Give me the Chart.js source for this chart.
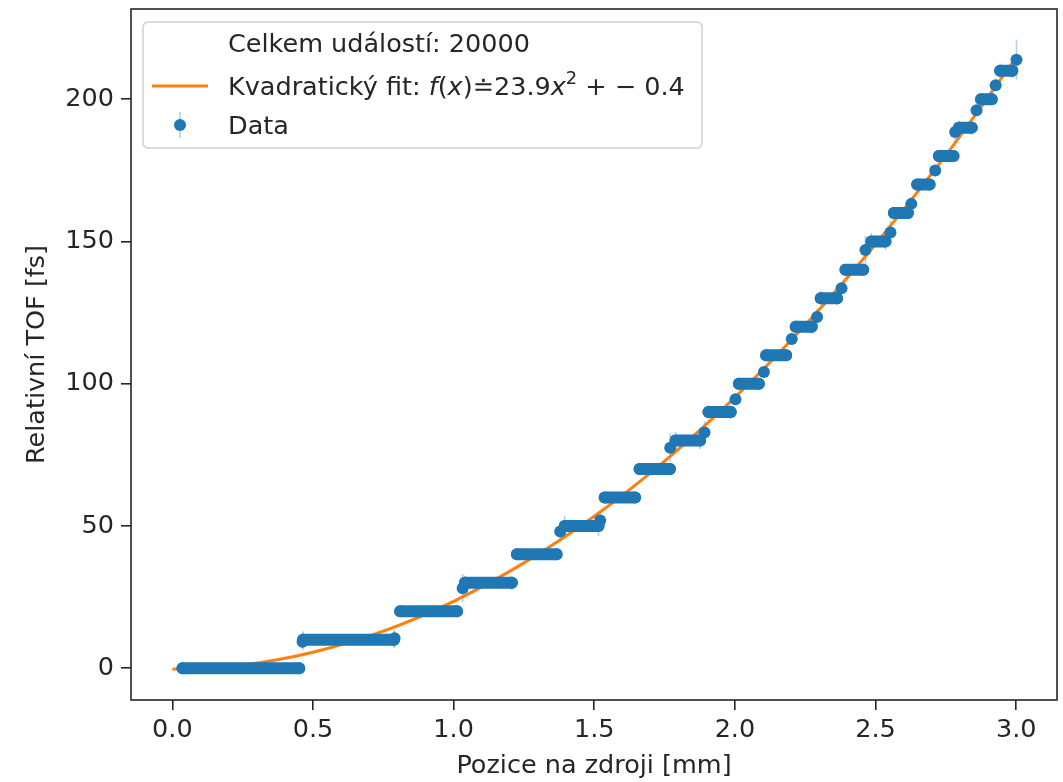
<!DOCTYPE html>
<html><head><meta charset="utf-8">
<script src="https://cdn.jsdelivr.net/npm/chart.js@4"></script>
<style>html,body{margin:0;padding:0;background:#fff}#wrap{width:1063px;height:782px;position:relative}</style>
</head><body><div id="wrap"><canvas id="c"></canvas></div>
<script>
// ---- data ----
const stepValues = [0,10,20,30,40,50,60,70,80,90,100,110,120,130,140,150,160,170,180,190,200,210];
const stepStart  = [0.036,0.465,0.81,1.04,1.225,1.395,1.537,1.661,1.789,1.906,2.014,2.111,2.216,2.305,2.393,2.485,2.565,2.648,2.725,2.796,2.875,2.943];
const stepEnd    = [0.451,0.788,1.012,1.207,1.366,1.515,1.645,1.769,1.876,1.985,2.085,2.182,2.273,2.363,2.456,2.535,2.615,2.692,2.777,2.842,2.913,2.986];
const stepErr    = [0.5,3,1.5,2.5,1.5,3.5,1.5,1.5,3,2.5,1.5,1.5,2.5,2.5,1.5,3,2,2,1.5,2.5,1.5,2.5];
const extraX   = [0.463,0.79,1.032,1.379,1.521,1.770,1.892,2.002,2.103,2.202,2.292,2.379,2.464,2.553,2.627,2.712,2.783,2.859,2.927,3.001];
const extraY   = [9.3,10.5,28.1,48.0,51.9,77.5,82.8,94.5,104.1,115.7,123.4,133.5,147.0,153.1,163.2,174.9,188.5,196.1,204.9,213.9];
const extraErr = [3,3,5,3.5,3.5,5,4,2,2,2,3,2,5,4,2,2,3,2,2,7];
const fitX = [0,0.25,0.5,0.75,1.0,1.25,1.5,1.75,2.0,2.25,2.5,2.75,3.0];
const fitY = [-0.4,1.1,5.6,13.0,23.5,37.0,53.4,72.8,95.2,120.6,149.0,180.3,214.7];
const xTicks = [0,0.5,1.0,1.5,2.0,2.5,3.0];
const yTicks = [0,50,100,150,200];
const legendTitle = 'Celkem událostí: 20000';
const legendFitPrefix = 'Kvadratický fit: ';
const legendData = 'Data';
const xTitle = 'Pozice na zdroji [mm]';
const yTitle = 'Relativní TOF [fs]';

const BLUE = '#1f77b4', ORANGE = '#ff7f0e', ERR = 'rgba(31,119,180,0.35)';
const FONT = '"DejaVu Sans", sans-serif';
const FS = 25.5;

// build datasets from arrays
const stepPts = [];
stepValues.forEach((v,i)=>{
  stepPts.push({x:stepStart[i], y:v});
  stepPts.push({x:stepEnd[i], y:v});
  stepPts.push({x:stepEnd[i], y:null});
});
const extraPts = extraX.map((x,i)=>({x, y:extraY[i]}));
const fitPts = fitX.map((x,i)=>({x, y:fitY[i]}));

const errorBars = {
  id:'errorBars',
  beforeDatasetsDraw(chart){
    const {ctx, scales:{x, y}} = chart;
    ctx.save();
    ctx.strokeStyle = ERR; ctx.lineWidth = 1.6;
    const bar = (xv, yv, e) => {
      const px = x.getPixelForValue(xv);
      ctx.beginPath();
      ctx.moveTo(px, y.getPixelForValue(yv - e));
      ctx.lineTo(px, y.getPixelForValue(yv + e));
      ctx.stroke();
    };
    stepValues.forEach((v,i)=>{ bar(stepStart[i], v, stepErr[i]); bar(stepEnd[i], v, stepErr[i]); });
    extraX.forEach((xv,i)=> bar(xv, extraY[i], extraErr[i]));
    ctx.restore();
  }
};

const frame = {
  id:'frame',
  afterDraw(chart){
    const {ctx, chartArea:a} = chart;
    ctx.save();
    ctx.strokeStyle = '#262626'; ctx.lineWidth = 1.6;
    ctx.strokeRect(a.left, a.top, a.right - a.left, a.bottom - a.top);
    ctx.restore();
  }
};

const mplLegend = {
  id:'mplLegend',
  afterDraw(chart){
    const {ctx, chartArea:a} = chart;
    ctx.save();
    const bx = a.left + 12, by = a.top + 13, bw = 559, bh = 126;
    ctx.beginPath(); ctx.roundRect(bx, by, bw, bh, 5);
    ctx.fillStyle = 'rgba(255,255,255,0.85)'; ctx.fill();
    ctx.strokeStyle = '#d0d0d0'; ctx.lineWidth = 1.5; ctx.stroke();
    const tx = bx + 85;
    const rows = [by + 30, by + 73, by + 112];
    ctx.fillStyle = '#262626';
    ctx.textBaseline = 'alphabetic';
    ctx.font = FS + 'px ' + FONT;
    ctx.fillText(legendTitle, tx, rows[0]);
    ctx.strokeStyle = ORANGE; ctx.lineWidth = 3;
    ctx.beginPath(); ctx.moveTo(bx + 9, rows[1] - 9); ctx.lineTo(bx + 65, rows[1] - 9); ctx.stroke();
    let cx = tx;
    const part = (t, style, size, dy) => {
      ctx.font = (style || '') + ' ' + (size || FS) + 'px ' + FONT;
      ctx.fillText(t, cx, rows[1] + (dy || 0));
      cx += ctx.measureText(t).width;
    };
    part(legendFitPrefix);
    part('f', 'italic');
    part('(');
    part('x', 'italic');
    part(')≐23.9');
    part('x', 'italic');
    part('2', '', FS * 0.7, -11);
    part(' + \u2212 0.4');
    const hx = bx + 37, hy = rows[2] - 9;
    ctx.strokeStyle = ERR; ctx.lineWidth = 1.6;
    ctx.beginPath(); ctx.moveTo(hx, hy - 13); ctx.lineTo(hx, hy + 13); ctx.stroke();
    ctx.fillStyle = BLUE;
    ctx.beginPath(); ctx.arc(hx, hy, 6, 0, Math.PI * 2); ctx.fill();
    ctx.fillStyle = '#262626';
    ctx.font = FS + 'px ' + FONT;
    ctx.fillText(legendData, tx, rows[2]);
    ctx.restore();
  }
};

new Chart(document.getElementById('c'), {
  type: 'scatter',
  data: {
    datasets: [
      { label: 'Data', data: stepPts, showLine: true, spanGaps: false,
        borderColor: BLUE, backgroundColor: BLUE, borderWidth: 12,
        borderCapStyle: 'round', pointRadius: 6, pointBorderWidth: 0, order: 0 },
      { label: 'Data2', data: extraPts, showLine: false,
        backgroundColor: BLUE, borderColor: BLUE, pointRadius: 6, pointBorderWidth: 0, order: 0 },
      { label: 'Fit', data: fitPts, showLine: true, borderColor: ORANGE, borderWidth: 3,
        cubicInterpolationMode: 'monotone', pointRadius: 0, order: 1 }
    ]
  },
  options: {
    responsive: true, maintainAspectRatio: false, animation: false,
    layout: { padding: { top: 9, right: 4, left: 0, bottom: 0 } },
    plugins: { legend: { display: false }, tooltip: { enabled: false } },
    scales: {
      x: {
        type: 'linear', min: -0.147, max: 3.145,
        afterBuildTicks: s => { s.ticks = xTicks.map(v => ({ value: v })); },
        afterFit: s => { s.height = 82; s.paddingLeft = 0; s.paddingRight = 0; },
        grid: { display: true, drawOnChartArea: false, drawTicks: true, tickLength: 10, color: '#262626', lineWidth: 1.6 },
        border: { display: false },
        ticks: { color: '#262626', padding: 5, font: { family: FONT, size: FS }, maxRotation: 0,
                 callback: v => Number(v).toFixed(1) },
        title: { display: true, text: xTitle, color: '#262626', font: { family: FONT, size: FS }, padding: { top: 0, bottom: 0 } }
      },
      y: {
        type: 'linear', min: -11.2, max: 231.7,
        afterBuildTicks: s => { s.ticks = yTicks.map(v => ({ value: v })); },
        afterFit: s => { s.width = 131; s.paddingTop = 0; s.paddingBottom = 0; },
        grid: { display: true, drawOnChartArea: false, drawTicks: true, tickLength: 10, color: '#262626', lineWidth: 1.6 },
        border: { display: false },
        ticks: { color: '#262626', padding: 7, font: { family: FONT, size: FS }, callback: v => String(v) },
        title: { display: true, text: yTitle, color: '#262626', font: { family: FONT, size: FS }, padding: { top: 22, bottom: 0 } }
      }
    }
  },
  plugins: [errorBars, frame, mplLegend]
});
</script></body></html>
